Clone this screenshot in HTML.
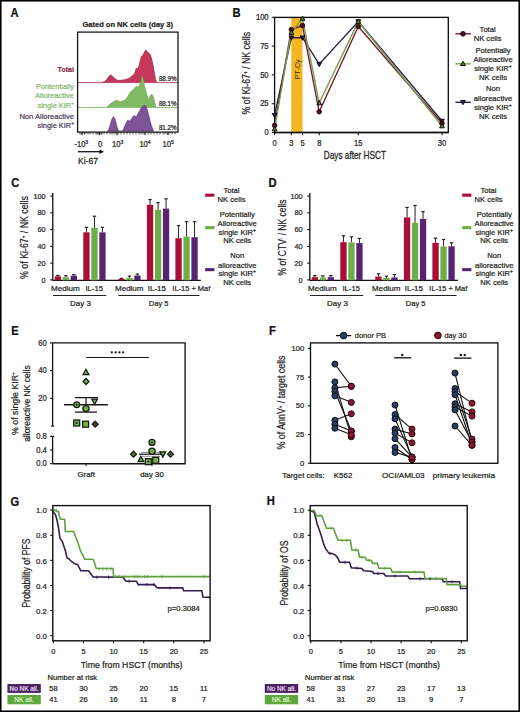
<!DOCTYPE html><html><head><meta charset="utf-8"><style>html,body{margin:0;padding:0;background:#fff;}svg{display:block;}text{font-family:"Liberation Sans", sans-serif;}</style></head><body>
<svg width="520" height="712" viewBox="0 0 520 712">
<rect x="0" y="0" width="520" height="712" fill="#fff"/>
<text transform="translate(10.6,16.9) scale(1,1.11)" font-size="11.2" text-anchor="start" fill="#111" stroke="#111" stroke-width="0.22" font-weight="bold">A</text>
<text transform="translate(232.6,16.7) scale(1,1.11)" font-size="11.2" text-anchor="start" fill="#111" stroke="#111" stroke-width="0.22" font-weight="bold">B</text>
<text transform="translate(11.2,187.1) scale(1,1.11)" font-size="11.2" text-anchor="start" fill="#111" stroke="#111" stroke-width="0.22" font-weight="bold">C</text>
<text transform="translate(268.4,186.8) scale(1,1.11)" font-size="11.2" text-anchor="start" fill="#111" stroke="#111" stroke-width="0.22" font-weight="bold">D</text>
<text transform="translate(11.2,335) scale(1,1.11)" font-size="11.2" text-anchor="start" fill="#111" stroke="#111" stroke-width="0.22" font-weight="bold">E</text>
<text transform="translate(268.9,335.1) scale(1,1.11)" font-size="11.2" text-anchor="start" fill="#111" stroke="#111" stroke-width="0.22" font-weight="bold">F</text>
<text transform="translate(10.6,506) scale(1,1.11)" font-size="11.2" text-anchor="start" fill="#111" stroke="#111" stroke-width="0.22" font-weight="bold">G</text>
<text transform="translate(266.8,505.4) scale(1,1.11)" font-size="11.2" text-anchor="start" fill="#111" stroke="#111" stroke-width="0.22" font-weight="bold">H</text>
<text transform="translate(82.5,27.3) scale(1,1)" font-size="7.0" text-anchor="start" fill="#231f20" stroke="#231f20" stroke-width="0.22" font-weight="bold" textLength="90.5" lengthAdjust="spacingAndGlyphs">Gated on NK cells (day 3)</text>
<polygon points="102.0,82.4 104.6,81.5 106.9,79.2 108.8,76.5 110.4,74.9 111.8,75.4 113.3,76.9 115.3,78.8 117.3,80.3 120.8,80.3 123.5,79.9 126.5,79.2 129.0,78.2 131.1,76.9 133.0,75.3 134.6,73.4 135.5,70.5 136.3,68.2 137.2,68.3 138.1,68.8 139.0,65.5 139.8,62.5 140.7,59.0 141.5,56.1 142.9,55.5 143.6,53.6 144.4,52.1 145.9,49.8 147.3,52.1 149.0,53.2 150.0,54.5 150.8,56.1 151.7,59.0 152.5,62.5 153.4,67.0 154.2,71.7 154.8,75.5 155.4,78.6 156.5,82.4" fill="#c9365c" stroke="#8a1f3a" stroke-width="0.6"/>
<line x1="77.5" y1="82.6" x2="178" y2="82.6" stroke="#c0506b" stroke-width="1.0"/>
<polygon points="106.5,107.5 108.0,106.0 110.4,103.8 113.0,102.0 116.1,100.0 118.0,100.8 120.2,101.7 122.5,101.0 124.8,100.5 126.3,98.5 127.7,96.5 130.0,92.5 131.8,90.8 133.4,89.6 135.0,87.8 136.3,86.1 137.2,87.0 138.1,87.8 139.3,85.5 140.4,82.7 141.3,79.0 142.1,76.3 143.3,77.5 144.4,85.5 146.1,91.9 147.3,96.0 148.4,100.0 149.8,97.0 150.8,95.0 151.9,94.2 152.8,95.5 153.6,97.6 154.8,102.5 155.9,107.5" fill="#80bb63" stroke="#5f8f48" stroke-width="0.5"/>
<line x1="77.5" y1="107.5" x2="178" y2="107.5" stroke="#8fbf78" stroke-width="1.0"/>
<polygon points="107.5,131.2 109.0,128.5 110.5,124.0 111.7,119.5 113.3,116.6 114.8,118.5 116.0,122.5 117.2,127.5 118.6,131.2 122.5,131.2 124.0,127.5 126.0,123.0 127.7,120.2 129.0,120.6 130.0,121.3 132.0,118.0 134.0,115.6 135.2,116.0 136.3,116.7 138.0,113.5 140.0,110.0 141.5,107.3 143.8,105.2 145.5,105.8 146.6,107.5 148.4,113.8 149.6,118.5 150.7,123.0 152.2,127.5 153.6,131.2" fill="#7e5498" stroke="#4a2c62" stroke-width="0.5"/>
<rect x="77.6" y="32.1" width="100.4" height="100.0" fill="none" stroke="#111" stroke-width="1.25"/>
<text transform="translate(176.5,81.2) scale(1,1.07)" font-size="6.0" text-anchor="end" fill="#231f20" stroke="#231f20" stroke-width="0.22" textLength="17.6" lengthAdjust="spacingAndGlyphs">88.9%</text>
<text transform="translate(176.5,105.6) scale(1,1.07)" font-size="6.0" text-anchor="end" fill="#231f20" stroke="#231f20" stroke-width="0.22" textLength="17.6" lengthAdjust="spacingAndGlyphs">88.1%</text>
<text transform="translate(176.5,129.8) scale(1,1.07)" font-size="6.0" text-anchor="end" fill="#231f20" stroke="#231f20" stroke-width="0.22" textLength="17.6" lengthAdjust="spacingAndGlyphs">81.2%</text>
<text transform="translate(74,72.0) scale(1,1)" font-size="7.8" text-anchor="end" fill="#8e2c48" stroke="#8e2c48" stroke-width="0.22" font-weight="bold" textLength="16.4" lengthAdjust="spacingAndGlyphs">Total</text>
<text transform="translate(74,88.9) scale(1,1)" font-size="7.6" text-anchor="end" fill="#86b66c" stroke="#86b66c" stroke-width="0.22" textLength="38" lengthAdjust="spacingAndGlyphs">Pontentially</text>
<text transform="translate(74,98.3) scale(1,1)" font-size="7.6" text-anchor="end" fill="#86b66c" stroke="#86b66c" stroke-width="0.22" textLength="39" lengthAdjust="spacingAndGlyphs">Alloreactive</text>
<text transform="translate(74,107.5) scale(1,1)" font-size="7.6" text-anchor="end" fill="#86b66c" stroke="#86b66c" stroke-width="0.22" textLength="36.5" lengthAdjust="spacingAndGlyphs">single KIR<tspan font-size="5" baseline-shift="3">+</tspan></text>
<text transform="translate(74,119.1) scale(1,1)" font-size="7.6" text-anchor="end" fill="#4a3c58" stroke="#4a3c58" stroke-width="0.22" textLength="54.6" lengthAdjust="spacingAndGlyphs">Non Alloreactive</text>
<text transform="translate(74,128.3) scale(1,1)" font-size="7.6" text-anchor="end" fill="#4a3c58" stroke="#4a3c58" stroke-width="0.22" textLength="36.5" lengthAdjust="spacingAndGlyphs">single KIR<tspan font-size="5" baseline-shift="3">+</tspan></text>
<line x1="80" y1="132.2" x2="80" y2="134.4" stroke="#222" stroke-width="0.8"/>
<line x1="81.5" y1="132.2" x2="81.5" y2="134.4" stroke="#222" stroke-width="0.8"/>
<line x1="83" y1="132.2" x2="83" y2="134.4" stroke="#222" stroke-width="0.8"/>
<line x1="84.5" y1="132.2" x2="84.5" y2="134.4" stroke="#222" stroke-width="0.8"/>
<line x1="86" y1="132.2" x2="86" y2="134.4" stroke="#222" stroke-width="0.8"/>
<line x1="88" y1="132.2" x2="88" y2="134.4" stroke="#222" stroke-width="0.8"/>
<line x1="90" y1="132.2" x2="90" y2="134.4" stroke="#222" stroke-width="0.8"/>
<line x1="93" y1="132.2" x2="93" y2="134.4" stroke="#222" stroke-width="0.8"/>
<line x1="96" y1="132.2" x2="96" y2="134.4" stroke="#222" stroke-width="0.8"/>
<line x1="97" y1="132.2" x2="97" y2="134.4" stroke="#222" stroke-width="0.8"/>
<line x1="98" y1="132.2" x2="98" y2="134.4" stroke="#222" stroke-width="0.8"/>
<line x1="99" y1="132.2" x2="99" y2="134.4" stroke="#222" stroke-width="0.8"/>
<line x1="100" y1="132.2" x2="100" y2="134.4" stroke="#222" stroke-width="0.8"/>
<line x1="101" y1="132.2" x2="101" y2="134.4" stroke="#222" stroke-width="0.8"/>
<line x1="102" y1="132.2" x2="102" y2="134.4" stroke="#222" stroke-width="0.8"/>
<line x1="104" y1="132.2" x2="104" y2="134.4" stroke="#222" stroke-width="0.8"/>
<line x1="107" y1="132.2" x2="107" y2="134.4" stroke="#222" stroke-width="0.8"/>
<line x1="110" y1="132.2" x2="110" y2="134.4" stroke="#222" stroke-width="0.8"/>
<line x1="112" y1="132.2" x2="112" y2="134.4" stroke="#222" stroke-width="0.8"/>
<line x1="114" y1="132.2" x2="114" y2="134.4" stroke="#222" stroke-width="0.8"/>
<line x1="116" y1="132.2" x2="116" y2="134.4" stroke="#222" stroke-width="0.8"/>
<line x1="118" y1="132.2" x2="118" y2="134.4" stroke="#222" stroke-width="0.8"/>
<line x1="121" y1="132.2" x2="121" y2="134.4" stroke="#222" stroke-width="0.8"/>
<line x1="124" y1="132.2" x2="124" y2="134.4" stroke="#222" stroke-width="0.8"/>
<line x1="127" y1="132.2" x2="127" y2="134.4" stroke="#222" stroke-width="0.8"/>
<line x1="130" y1="132.2" x2="130" y2="134.4" stroke="#222" stroke-width="0.8"/>
<line x1="133" y1="132.2" x2="133" y2="134.4" stroke="#222" stroke-width="0.8"/>
<line x1="136" y1="132.2" x2="136" y2="134.4" stroke="#222" stroke-width="0.8"/>
<line x1="139" y1="132.2" x2="139" y2="134.4" stroke="#222" stroke-width="0.8"/>
<line x1="141" y1="132.2" x2="141" y2="134.4" stroke="#222" stroke-width="0.8"/>
<line x1="143" y1="132.2" x2="143" y2="134.4" stroke="#222" stroke-width="0.8"/>
<line x1="145" y1="132.2" x2="145" y2="134.4" stroke="#222" stroke-width="0.8"/>
<line x1="148" y1="132.2" x2="148" y2="134.4" stroke="#222" stroke-width="0.8"/>
<line x1="151" y1="132.2" x2="151" y2="134.4" stroke="#222" stroke-width="0.8"/>
<line x1="154" y1="132.2" x2="154" y2="134.4" stroke="#222" stroke-width="0.8"/>
<line x1="157" y1="132.2" x2="157" y2="134.4" stroke="#222" stroke-width="0.8"/>
<line x1="160" y1="132.2" x2="160" y2="134.4" stroke="#222" stroke-width="0.8"/>
<line x1="163" y1="132.2" x2="163" y2="134.4" stroke="#222" stroke-width="0.8"/>
<line x1="165" y1="132.2" x2="165" y2="134.4" stroke="#222" stroke-width="0.8"/>
<line x1="167" y1="132.2" x2="167" y2="134.4" stroke="#222" stroke-width="0.8"/>
<line x1="169" y1="132.2" x2="169" y2="134.4" stroke="#222" stroke-width="0.8"/>
<line x1="172" y1="132.2" x2="172" y2="134.4" stroke="#222" stroke-width="0.8"/>
<line x1="175" y1="132.2" x2="175" y2="134.4" stroke="#222" stroke-width="0.8"/>
<line x1="82" y1="132.2" x2="82" y2="135.2" stroke="#222" stroke-width="1.0"/>
<line x1="99.5" y1="132.2" x2="99.5" y2="135.2" stroke="#222" stroke-width="1.0"/>
<line x1="117" y1="132.2" x2="117" y2="135.2" stroke="#222" stroke-width="1.0"/>
<line x1="145" y1="132.2" x2="145" y2="135.2" stroke="#222" stroke-width="1.0"/>
<line x1="168" y1="132.2" x2="168" y2="135.2" stroke="#222" stroke-width="1.0"/>
<text transform="translate(74.4,147) scale(1,1.07)" font-size="7.6" text-anchor="start" fill="#231f20" stroke="#231f20" stroke-width="0.22">-10<tspan font-size="5" baseline-shift="3">3</tspan></text>
<text transform="translate(98,147) scale(1,1.07)" font-size="7.6" text-anchor="start" fill="#231f20" stroke="#231f20" stroke-width="0.22">0</text>
<text transform="translate(112,147) scale(1,1.07)" font-size="7.6" text-anchor="start" fill="#231f20" stroke="#231f20" stroke-width="0.22">10<tspan font-size="5" baseline-shift="3">3</tspan></text>
<text transform="translate(139.4,147) scale(1,1.07)" font-size="7.6" text-anchor="start" fill="#231f20" stroke="#231f20" stroke-width="0.22">10<tspan font-size="5" baseline-shift="3">4</tspan></text>
<text transform="translate(162.5,147) scale(1,1.07)" font-size="7.6" text-anchor="start" fill="#231f20" stroke="#231f20" stroke-width="0.22">10<tspan font-size="5" baseline-shift="3">5</tspan></text>
<line x1="78" y1="151.7" x2="100.5" y2="151.7" stroke="#111" stroke-width="1.3"/>
<polygon points="104.0,151.7 99.5,149.4 99.5,154.0" fill="#111" stroke="none" stroke-width="0.8"/>
<text transform="translate(78,163.7) scale(1,1.15)" font-size="8.6" text-anchor="start" fill="#231f20" stroke="#231f20" stroke-width="0.22" textLength="20" lengthAdjust="spacingAndGlyphs">Ki-67</text>
<rect x="291.3" y="17.4" width="11.2" height="115.1" fill="#f1b620"/>
<text transform="translate(300.2,69.3) rotate(-90)" font-size="7.2" text-anchor="middle" fill="#3b2a05">PT-Cy</text>
<rect x="274.6" y="17.4" width="173.70" height="115.10" fill="none" stroke="#111" stroke-width="1.35"/>
<line x1="274.6" y1="132.5" x2="448.5" y2="132.5" stroke="#111" stroke-width="1.4"/>
<line x1="271.8" y1="132.5" x2="274.6" y2="132.5" stroke="#111" stroke-width="1.1"/>
<text transform="translate(268.6,135.2) scale(1,1.07)" font-size="7.6" text-anchor="end" fill="#231f20" stroke="#231f20" stroke-width="0.22">0</text>
<line x1="271.8" y1="103.7" x2="274.6" y2="103.7" stroke="#111" stroke-width="1.1"/>
<text transform="translate(268.6,106.4) scale(1,1.07)" font-size="7.6" text-anchor="end" fill="#231f20" stroke="#231f20" stroke-width="0.22">25</text>
<line x1="271.8" y1="74.9" x2="274.6" y2="74.9" stroke="#111" stroke-width="1.1"/>
<text transform="translate(268.6,77.60000000000001) scale(1,1.07)" font-size="7.6" text-anchor="end" fill="#231f20" stroke="#231f20" stroke-width="0.22">50</text>
<line x1="271.8" y1="46.10000000000001" x2="274.6" y2="46.10000000000001" stroke="#111" stroke-width="1.1"/>
<text transform="translate(268.6,48.80000000000001) scale(1,1.07)" font-size="7.6" text-anchor="end" fill="#231f20" stroke="#231f20" stroke-width="0.22">75</text>
<line x1="271.8" y1="17.30000000000001" x2="274.6" y2="17.30000000000001" stroke="#111" stroke-width="1.1"/>
<text transform="translate(268.6,20.00000000000001) scale(1,1.07)" font-size="7.6" text-anchor="end" fill="#231f20" stroke="#231f20" stroke-width="0.22">100</text>
<line x1="274.6" y1="132.5" x2="274.6" y2="135.2" stroke="#111" stroke-width="1.1"/>
<text transform="translate(274.6,145.6) scale(1,1.08)" font-size="7.6" text-anchor="middle" fill="#231f20" stroke="#231f20" stroke-width="0.22">0</text>
<line x1="291.34000000000003" y1="132.5" x2="291.34000000000003" y2="135.2" stroke="#111" stroke-width="1.1"/>
<text transform="translate(291.34000000000003,145.6) scale(1,1.08)" font-size="7.6" text-anchor="middle" fill="#231f20" stroke="#231f20" stroke-width="0.22">3</text>
<line x1="302.5" y1="132.5" x2="302.5" y2="135.2" stroke="#111" stroke-width="1.1"/>
<text transform="translate(302.5,145.6) scale(1,1.08)" font-size="7.6" text-anchor="middle" fill="#231f20" stroke="#231f20" stroke-width="0.22">5</text>
<line x1="319.24" y1="132.5" x2="319.24" y2="135.2" stroke="#111" stroke-width="1.1"/>
<text transform="translate(319.24,145.6) scale(1,1.08)" font-size="7.6" text-anchor="middle" fill="#231f20" stroke="#231f20" stroke-width="0.22">8</text>
<line x1="358.3" y1="132.5" x2="358.3" y2="135.2" stroke="#111" stroke-width="1.1"/>
<text transform="translate(358.3,145.6) scale(1,1.08)" font-size="7.6" text-anchor="middle" fill="#231f20" stroke="#231f20" stroke-width="0.22">15</text>
<line x1="442.0" y1="132.5" x2="442.0" y2="135.2" stroke="#111" stroke-width="1.1"/>
<text transform="translate(442.0,145.6) scale(1,1.08)" font-size="7.6" text-anchor="middle" fill="#231f20" stroke="#231f20" stroke-width="0.22">30</text>
<text transform="translate(323.8,159.0) scale(1,1.2)" font-size="8.4" text-anchor="start" fill="#231f20" stroke="#231f20" stroke-width="0.22" textLength="62.2" lengthAdjust="spacingAndGlyphs">Days after HSCT</text>
<text transform="translate(249.9,73.2) rotate(-90)" x="0" y="0" font-size="10" text-anchor="middle" fill="#231f20" stroke="#231f20" stroke-width="0.22" textLength="82.6" lengthAdjust="spacingAndGlyphs">% of Ki-67<tspan font-size="5" baseline-shift="3">+</tspan> / NK cells</text>
<polyline points="274.6,115.2 291.3,37.7 302.5,37.7 319.2,64.2 358.3,21.6 442.0,121.0" fill="none" stroke="#2b2350" stroke-width="1.4" stroke-linejoin="miter"/>
<polyline points="274.6,125.4 291.3,29.6 302.5,25.6 319.2,111.8 358.3,26.5 442.0,123.3" fill="none" stroke="#7a1a2c" stroke-width="1.4" stroke-linejoin="miter"/>
<polyline points="274.6,129.0 291.3,32.5 302.5,18.6 319.2,103.0 358.3,21.6 442.0,126.0" fill="none" stroke="#74a352" stroke-width="1.4" stroke-linejoin="miter"/>
<polygon points="274.6,117.7 272.2,113.5 277.0,113.5" fill="#2a2144" stroke="#0d0a18" stroke-width="0.9"/>
<polygon points="291.3,40.2 289.0,35.9 293.7,35.9" fill="#2a2144" stroke="#0d0a18" stroke-width="0.9"/>
<polygon points="302.5,40.2 300.1,35.9 304.9,35.9" fill="#2a2144" stroke="#0d0a18" stroke-width="0.9"/>
<polygon points="319.2,66.7 316.9,62.4 321.6,62.4" fill="#2a2144" stroke="#0d0a18" stroke-width="0.9"/>
<polygon points="358.3,24.1 355.9,19.8 360.7,19.8" fill="#2a2144" stroke="#0d0a18" stroke-width="0.9"/>
<polygon points="442.0,123.5 439.6,119.2 444.4,119.2" fill="#2a2144" stroke="#0d0a18" stroke-width="0.9"/>
<circle cx="274.6" cy="125.4" r="2.3" fill="#4a0c18" stroke="#1a0508" stroke-width="0.8"/>
<circle cx="291.3" cy="29.6" r="2.3" fill="#4a0c18" stroke="#1a0508" stroke-width="0.8"/>
<circle cx="302.5" cy="25.6" r="2.3" fill="#4a0c18" stroke="#1a0508" stroke-width="0.8"/>
<circle cx="319.2" cy="111.8" r="2.3" fill="#4a0c18" stroke="#1a0508" stroke-width="0.8"/>
<circle cx="358.3" cy="26.5" r="2.3" fill="#4a0c18" stroke="#1a0508" stroke-width="0.8"/>
<circle cx="442.0" cy="123.3" r="2.3" fill="#4a0c18" stroke="#1a0508" stroke-width="0.8"/>
<polygon points="274.6,126.5 272.2,130.8 277.0,130.8" fill="#5d8a40" stroke="#0a0a0a" stroke-width="1.0"/>
<polygon points="291.3,30.0 289.0,34.3 293.7,34.3" fill="#5d8a40" stroke="#0a0a0a" stroke-width="1.0"/>
<polygon points="302.5,16.1 300.1,20.3 304.9,20.3" fill="#5d8a40" stroke="#0a0a0a" stroke-width="1.0"/>
<polygon points="319.2,100.5 316.9,104.8 321.6,104.8" fill="#5d8a40" stroke="#0a0a0a" stroke-width="1.0"/>
<polygon points="358.3,19.1 355.9,23.3 360.7,23.3" fill="#5d8a40" stroke="#0a0a0a" stroke-width="1.0"/>
<polygon points="442.0,123.5 439.6,127.8 444.4,127.8" fill="#5d8a40" stroke="#0a0a0a" stroke-width="1.0"/>
<line x1="455.4" y1="33.8" x2="470.8" y2="33.8" stroke="#7a1a2c" stroke-width="1.4"/>
<circle cx="463.0" cy="33.8" r="2.4" fill="#4a0c18" stroke="#1a0508" stroke-width="0.8"/>
<line x1="455.4" y1="63.8" x2="470.8" y2="63.8" stroke="#74a352" stroke-width="1.4"/>
<polygon points="463.0,61.3 460.6,65.5 465.4,65.5" fill="#5d8a40" stroke="#0a0a0a" stroke-width="1.0"/>
<line x1="455.4" y1="102.3" x2="470.8" y2="102.3" stroke="#2b2350" stroke-width="1.4"/>
<polygon points="463.0,104.8 460.6,100.5 465.4,100.5" fill="#2a2144" stroke="#0d0a18" stroke-width="0.9"/>
<text transform="translate(487.6,32.2) scale(1,1)" font-size="7.6" text-anchor="middle" fill="#231f20" stroke="#231f20" stroke-width="0.22">Total</text>
<text transform="translate(487.6,41.2) scale(1,1)" font-size="7.6" text-anchor="middle" fill="#231f20" stroke="#231f20" stroke-width="0.22">NK cells</text>
<text transform="translate(493,52.8) scale(1,1)" font-size="7.6" text-anchor="middle" fill="#231f20" stroke="#231f20" stroke-width="0.22">Potentially</text>
<text transform="translate(493,62) scale(1,1)" font-size="7.6" text-anchor="middle" fill="#231f20" stroke="#231f20" stroke-width="0.22">Alloreactive</text>
<text transform="translate(493,71.2) scale(1,1)" font-size="7.6" text-anchor="middle" fill="#231f20" stroke="#231f20" stroke-width="0.22">single KIR<tspan font-size="5" baseline-shift="3">+</tspan></text>
<text transform="translate(493,80.4) scale(1,1)" font-size="7.6" text-anchor="middle" fill="#231f20" stroke="#231f20" stroke-width="0.22">NK cells</text>
<text transform="translate(493,91.4) scale(1,1)" font-size="7.6" text-anchor="middle" fill="#231f20" stroke="#231f20" stroke-width="0.22">Non</text>
<text transform="translate(493,100.6) scale(1,1)" font-size="7.6" text-anchor="middle" fill="#231f20" stroke="#231f20" stroke-width="0.22">alloreactive</text>
<text transform="translate(493,109.8) scale(1,1)" font-size="7.6" text-anchor="middle" fill="#231f20" stroke="#231f20" stroke-width="0.22">single KIR<tspan font-size="5" baseline-shift="3">+</tspan></text>
<text transform="translate(493,119) scale(1,1)" font-size="7.6" text-anchor="middle" fill="#231f20" stroke="#231f20" stroke-width="0.22">NK cells</text>
<line x1="52.8" y1="193.0" x2="52.8" y2="280.4" stroke="#111" stroke-width="1.3"/>
<line x1="52.8" y1="280.3" x2="200.8" y2="280.3" stroke="#111" stroke-width="1.3"/>
<line x1="50.199999999999996" y1="279.9" x2="52.8" y2="279.9" stroke="#111" stroke-width="1.1"/>
<text transform="translate(45.599999999999994,282.5) scale(1,1)" font-size="7.3" text-anchor="end" fill="#231f20" stroke="#231f20" stroke-width="0.22">0</text>
<line x1="50.199999999999996" y1="263.14" x2="52.8" y2="263.14" stroke="#111" stroke-width="1.1"/>
<text transform="translate(45.599999999999994,265.74) scale(1,1)" font-size="7.3" text-anchor="end" fill="#231f20" stroke="#231f20" stroke-width="0.22">20</text>
<line x1="50.199999999999996" y1="246.38" x2="52.8" y2="246.38" stroke="#111" stroke-width="1.1"/>
<text transform="translate(45.599999999999994,248.98) scale(1,1)" font-size="7.3" text-anchor="end" fill="#231f20" stroke="#231f20" stroke-width="0.22">40</text>
<line x1="50.199999999999996" y1="229.61999999999998" x2="52.8" y2="229.61999999999998" stroke="#111" stroke-width="1.1"/>
<text transform="translate(45.599999999999994,232.21999999999997) scale(1,1)" font-size="7.3" text-anchor="end" fill="#231f20" stroke="#231f20" stroke-width="0.22">60</text>
<line x1="50.199999999999996" y1="212.85999999999999" x2="52.8" y2="212.85999999999999" stroke="#111" stroke-width="1.1"/>
<text transform="translate(45.599999999999994,215.45999999999998) scale(1,1)" font-size="7.3" text-anchor="end" fill="#231f20" stroke="#231f20" stroke-width="0.22">80</text>
<line x1="50.199999999999996" y1="196.09999999999997" x2="52.8" y2="196.09999999999997" stroke="#111" stroke-width="1.1"/>
<text transform="translate(45.599999999999994,198.69999999999996) scale(1,1)" font-size="7.3" text-anchor="end" fill="#231f20" stroke="#231f20" stroke-width="0.22">100</text>
<line x1="57.849999999999994" y1="275.4586" x2="57.849999999999994" y2="276.38039999999995" stroke="#222" stroke-width="1.0"/>
<line x1="56.14999999999999" y1="275.4586" x2="59.55" y2="275.4586" stroke="#222" stroke-width="1.2"/>
<rect x="54.7" y="276.4" width="6.3" height="3.9" fill="#aa0d38"/>
<line x1="65.85" y1="275.71" x2="65.85" y2="277.2184" stroke="#222" stroke-width="1.0"/>
<line x1="64.14999999999999" y1="275.71" x2="67.55" y2="275.71" stroke="#222" stroke-width="1.2"/>
<rect x="62.7" y="277.2" width="6.3" height="3.1" fill="#6cae48"/>
<line x1="73.85" y1="274.62059999999997" x2="73.85" y2="275.71" stroke="#222" stroke-width="1.0"/>
<line x1="72.14999999999999" y1="274.62059999999997" x2="75.55" y2="274.62059999999997" stroke="#222" stroke-width="1.2"/>
<rect x="70.7" y="275.7" width="6.3" height="4.6" fill="#57246f"/>
<line x1="86.45" y1="227.35739999999998" x2="86.45" y2="232.30159999999998" stroke="#222" stroke-width="1.0"/>
<line x1="84.75" y1="227.35739999999998" x2="88.15" y2="227.35739999999998" stroke="#222" stroke-width="1.2"/>
<rect x="83.3" y="232.3" width="6.3" height="48.0" fill="#aa0d38"/>
<line x1="94.45" y1="216.212" x2="94.45" y2="227.77639999999997" stroke="#222" stroke-width="1.0"/>
<line x1="92.75" y1="216.212" x2="96.15" y2="216.212" stroke="#222" stroke-width="1.2"/>
<rect x="91.3" y="227.8" width="6.3" height="52.5" fill="#6cae48"/>
<line x1="102.45" y1="227.35739999999998" x2="102.45" y2="232.38539999999998" stroke="#222" stroke-width="1.0"/>
<line x1="100.75" y1="227.35739999999998" x2="104.15" y2="227.35739999999998" stroke="#222" stroke-width="1.2"/>
<rect x="99.3" y="232.4" width="6.3" height="47.9" fill="#57246f"/>
<line x1="121.45" y1="278.3916" x2="121.45" y2="278.89439999999996" stroke="#222" stroke-width="1.0"/>
<line x1="119.75" y1="278.3916" x2="123.15" y2="278.3916" stroke="#222" stroke-width="1.2"/>
<rect x="118.3" y="278.9" width="6.3" height="1.4" fill="#aa0d38"/>
<line x1="129.45" y1="276.12899999999996" x2="129.45" y2="277.8888" stroke="#222" stroke-width="1.0"/>
<line x1="127.74999999999999" y1="276.12899999999996" x2="131.14999999999998" y2="276.12899999999996" stroke="#222" stroke-width="1.2"/>
<rect x="126.3" y="277.9" width="6.3" height="2.4" fill="#6cae48"/>
<line x1="137.45000000000002" y1="274.034" x2="137.45000000000002" y2="275.4586" stroke="#222" stroke-width="1.0"/>
<line x1="135.75000000000003" y1="274.034" x2="139.15" y2="274.034" stroke="#222" stroke-width="1.2"/>
<rect x="134.3" y="275.5" width="6.3" height="4.8" fill="#57246f"/>
<line x1="150.04999999999998" y1="199.5358" x2="150.04999999999998" y2="204.8152" stroke="#222" stroke-width="1.0"/>
<line x1="148.35" y1="199.5358" x2="151.74999999999997" y2="199.5358" stroke="#222" stroke-width="1.2"/>
<rect x="146.9" y="204.8" width="6.3" height="75.5" fill="#aa0d38"/>
<line x1="158.04999999999998" y1="202.63639999999998" x2="158.04999999999998" y2="209.84319999999997" stroke="#222" stroke-width="1.0"/>
<line x1="156.35" y1="202.63639999999998" x2="159.74999999999997" y2="202.63639999999998" stroke="#222" stroke-width="1.2"/>
<rect x="154.9" y="209.8" width="6.3" height="70.5" fill="#6cae48"/>
<line x1="166.04999999999998" y1="198.86539999999997" x2="166.04999999999998" y2="208.5862" stroke="#222" stroke-width="1.0"/>
<line x1="164.35" y1="198.86539999999997" x2="167.74999999999997" y2="198.86539999999997" stroke="#222" stroke-width="1.2"/>
<rect x="162.9" y="208.6" width="6.3" height="71.7" fill="#57246f"/>
<line x1="178.54999999999998" y1="225.68139999999997" x2="178.54999999999998" y2="238.1676" stroke="#222" stroke-width="1.0"/>
<line x1="176.85" y1="225.68139999999997" x2="180.24999999999997" y2="225.68139999999997" stroke="#222" stroke-width="1.2"/>
<rect x="175.4" y="238.2" width="6.3" height="42.1" fill="#aa0d38"/>
<line x1="186.54999999999998" y1="221.659" x2="186.54999999999998" y2="236.57539999999997" stroke="#222" stroke-width="1.0"/>
<line x1="184.85" y1="221.659" x2="188.24999999999997" y2="221.659" stroke="#222" stroke-width="1.2"/>
<rect x="183.4" y="236.6" width="6.3" height="43.7" fill="#6cae48"/>
<line x1="194.54999999999998" y1="221.659" x2="194.54999999999998" y2="237.16199999999998" stroke="#222" stroke-width="1.0"/>
<line x1="192.85" y1="221.659" x2="196.24999999999997" y2="221.659" stroke="#222" stroke-width="1.2"/>
<rect x="191.4" y="237.2" width="6.3" height="43.1" fill="#57246f"/>
<text transform="translate(51.0,290.9) scale(1,1)" font-size="7.8" text-anchor="start" fill="#231f20" stroke="#231f20" stroke-width="0.22" textLength="28.7" lengthAdjust="spacingAndGlyphs">Medium</text>
<text transform="translate(85.4,290.9) scale(1,1)" font-size="7.8" text-anchor="start" fill="#231f20" stroke="#231f20" stroke-width="0.22" textLength="17.6" lengthAdjust="spacingAndGlyphs">IL-15</text>
<text transform="translate(115.0,290.9) scale(1,1)" font-size="7.8" text-anchor="start" fill="#231f20" stroke="#231f20" stroke-width="0.22" textLength="28.5" lengthAdjust="spacingAndGlyphs">Medium</text>
<text transform="translate(147.7,290.9) scale(1,1)" font-size="7.8" text-anchor="start" fill="#231f20" stroke="#231f20" stroke-width="0.22" textLength="18.3" lengthAdjust="spacingAndGlyphs">IL-15</text>
<text transform="translate(172.3,290.9) scale(1,1)" font-size="7.8" text-anchor="start" fill="#231f20" stroke="#231f20" stroke-width="0.22" textLength="38" lengthAdjust="spacingAndGlyphs">IL-15 + Maf</text>
<line x1="53.0" y1="295.5" x2="106.19999999999999" y2="295.5" stroke="#222" stroke-width="1.1"/>
<line x1="118.39999999999999" y1="295.5" x2="199.39999999999998" y2="295.5" stroke="#222" stroke-width="1.1"/>
<text transform="translate(80.4,305.8) scale(1,1.03)" font-size="7.8" text-anchor="middle" fill="#231f20" stroke="#231f20" stroke-width="0.22" textLength="20.8" lengthAdjust="spacingAndGlyphs">Day 3</text>
<text transform="translate(158.6,305.8) scale(1,1.03)" font-size="7.8" text-anchor="middle" fill="#231f20" stroke="#231f20" stroke-width="0.22" textLength="19.8" lengthAdjust="spacingAndGlyphs">Day 5</text>
<text transform="translate(27.8,237.5) rotate(-90)" x="0" y="0" font-size="10" text-anchor="middle" fill="#231f20" stroke="#231f20" stroke-width="0.22" textLength="82.9" lengthAdjust="spacingAndGlyphs">% of Ki-67<tspan font-size="5" baseline-shift="3">+</tspan> / NK cells</text>
<rect x="205.2" y="193.6" width="9.2" height="3.1" fill="#aa0d38"/>
<rect x="205.2" y="226.1" width="9.2" height="3.1" fill="#6cae48"/>
<rect x="205.2" y="268.1" width="9.2" height="3.1" fill="#57246f"/>
<text transform="translate(231.5,192.8) scale(1,1)" font-size="7.6" text-anchor="middle" fill="#231f20" stroke="#231f20" stroke-width="0.22">Total</text>
<text transform="translate(231.5,202) scale(1,1)" font-size="7.6" text-anchor="middle" fill="#231f20" stroke="#231f20" stroke-width="0.22">NK cells</text>
<text transform="translate(237.2,217) scale(1,1)" font-size="7.6" text-anchor="middle" fill="#231f20" stroke="#231f20" stroke-width="0.22">Potentially</text>
<text transform="translate(237.2,225.9) scale(1,1)" font-size="7.6" text-anchor="middle" fill="#231f20" stroke="#231f20" stroke-width="0.22">Alloreactive</text>
<text transform="translate(237.2,234.6) scale(1,1)" font-size="7.6" text-anchor="middle" fill="#231f20" stroke="#231f20" stroke-width="0.22">single KIR<tspan font-size="5" baseline-shift="3">+</tspan></text>
<text transform="translate(237.2,243.3) scale(1,1)" font-size="7.6" text-anchor="middle" fill="#231f20" stroke="#231f20" stroke-width="0.22">NK cells</text>
<text transform="translate(237.2,258.2) scale(1,1)" font-size="7.6" text-anchor="middle" fill="#231f20" stroke="#231f20" stroke-width="0.22">Non</text>
<text transform="translate(237.2,267.6) scale(1,1)" font-size="7.6" text-anchor="middle" fill="#231f20" stroke="#231f20" stroke-width="0.22">alloreactive</text>
<text transform="translate(237.2,276.4) scale(1,1)" font-size="7.6" text-anchor="middle" fill="#231f20" stroke="#231f20" stroke-width="0.22">single KIR<tspan font-size="5" baseline-shift="3">+</tspan></text>
<text transform="translate(237.2,285.4) scale(1,1)" font-size="7.6" text-anchor="middle" fill="#231f20" stroke="#231f20" stroke-width="0.22">NK cells</text>
<line x1="309.8" y1="193.0" x2="309.8" y2="280.4" stroke="#111" stroke-width="1.3"/>
<line x1="309.8" y1="280.3" x2="457.8" y2="280.3" stroke="#111" stroke-width="1.3"/>
<line x1="307.2" y1="279.9" x2="309.8" y2="279.9" stroke="#111" stroke-width="1.1"/>
<text transform="translate(302.6,282.5) scale(1,1)" font-size="7.3" text-anchor="end" fill="#231f20" stroke="#231f20" stroke-width="0.22">0</text>
<line x1="307.2" y1="263.14" x2="309.8" y2="263.14" stroke="#111" stroke-width="1.1"/>
<text transform="translate(302.6,265.74) scale(1,1)" font-size="7.3" text-anchor="end" fill="#231f20" stroke="#231f20" stroke-width="0.22">20</text>
<line x1="307.2" y1="246.38" x2="309.8" y2="246.38" stroke="#111" stroke-width="1.1"/>
<text transform="translate(302.6,248.98) scale(1,1)" font-size="7.3" text-anchor="end" fill="#231f20" stroke="#231f20" stroke-width="0.22">40</text>
<line x1="307.2" y1="229.61999999999998" x2="309.8" y2="229.61999999999998" stroke="#111" stroke-width="1.1"/>
<text transform="translate(302.6,232.21999999999997) scale(1,1)" font-size="7.3" text-anchor="end" fill="#231f20" stroke="#231f20" stroke-width="0.22">60</text>
<line x1="307.2" y1="212.85999999999999" x2="309.8" y2="212.85999999999999" stroke="#111" stroke-width="1.1"/>
<text transform="translate(302.6,215.45999999999998) scale(1,1)" font-size="7.3" text-anchor="end" fill="#231f20" stroke="#231f20" stroke-width="0.22">80</text>
<line x1="307.2" y1="196.09999999999997" x2="309.8" y2="196.09999999999997" stroke="#111" stroke-width="1.1"/>
<text transform="translate(302.6,198.69999999999996) scale(1,1)" font-size="7.3" text-anchor="end" fill="#231f20" stroke="#231f20" stroke-width="0.22">100</text>
<line x1="314.84999999999997" y1="275.6262" x2="314.84999999999997" y2="277.2184" stroke="#222" stroke-width="1.0"/>
<line x1="313.15" y1="275.6262" x2="316.54999999999995" y2="275.6262" stroke="#222" stroke-width="1.2"/>
<rect x="311.7" y="277.2" width="6.3" height="3.1" fill="#aa0d38"/>
<line x1="322.84999999999997" y1="275.8776" x2="322.84999999999997" y2="277.46979999999996" stroke="#222" stroke-width="1.0"/>
<line x1="321.15" y1="275.8776" x2="324.54999999999995" y2="275.8776" stroke="#222" stroke-width="1.2"/>
<rect x="319.7" y="277.5" width="6.3" height="2.8" fill="#6cae48"/>
<line x1="330.84999999999997" y1="275.6262" x2="330.84999999999997" y2="277.2184" stroke="#222" stroke-width="1.0"/>
<line x1="329.15" y1="275.6262" x2="332.54999999999995" y2="275.6262" stroke="#222" stroke-width="1.2"/>
<rect x="327.7" y="277.2" width="6.3" height="3.1" fill="#57246f"/>
<line x1="343.45" y1="235.82119999999998" x2="343.45" y2="242.18999999999997" stroke="#222" stroke-width="1.0"/>
<line x1="341.75" y1="235.82119999999998" x2="345.15" y2="235.82119999999998" stroke="#222" stroke-width="1.2"/>
<rect x="340.3" y="242.2" width="6.3" height="38.1" fill="#aa0d38"/>
<line x1="351.45" y1="236.8268" x2="351.45" y2="242.52519999999998" stroke="#222" stroke-width="1.0"/>
<line x1="349.75" y1="236.8268" x2="353.15" y2="236.8268" stroke="#222" stroke-width="1.2"/>
<rect x="348.3" y="242.5" width="6.3" height="37.8" fill="#6cae48"/>
<line x1="359.45" y1="238.41899999999998" x2="359.45" y2="243.1118" stroke="#222" stroke-width="1.0"/>
<line x1="357.75" y1="238.41899999999998" x2="361.15" y2="238.41899999999998" stroke="#222" stroke-width="1.2"/>
<rect x="356.3" y="243.1" width="6.3" height="37.2" fill="#57246f"/>
<line x1="378.45" y1="273.7826" x2="378.45" y2="276.6318" stroke="#222" stroke-width="1.0"/>
<line x1="376.75" y1="273.7826" x2="380.15" y2="273.7826" stroke="#222" stroke-width="1.2"/>
<rect x="375.3" y="276.6" width="6.3" height="3.7" fill="#aa0d38"/>
<line x1="386.45" y1="276.12899999999996" x2="386.45" y2="277.9726" stroke="#222" stroke-width="1.0"/>
<line x1="384.75" y1="276.12899999999996" x2="388.15" y2="276.12899999999996" stroke="#222" stroke-width="1.2"/>
<rect x="383.3" y="278.0" width="6.3" height="2.3" fill="#6cae48"/>
<line x1="394.45" y1="274.70439999999996" x2="394.45" y2="277.38599999999997" stroke="#222" stroke-width="1.0"/>
<line x1="392.75" y1="274.70439999999996" x2="396.15" y2="274.70439999999996" stroke="#222" stroke-width="1.2"/>
<rect x="391.3" y="277.4" width="6.3" height="2.9" fill="#57246f"/>
<line x1="407.04999999999995" y1="207.41299999999998" x2="407.04999999999995" y2="217.3852" stroke="#222" stroke-width="1.0"/>
<line x1="405.34999999999997" y1="207.41299999999998" x2="408.74999999999994" y2="207.41299999999998" stroke="#222" stroke-width="1.2"/>
<rect x="403.9" y="217.4" width="6.3" height="62.9" fill="#aa0d38"/>
<line x1="415.04999999999995" y1="205.48559999999998" x2="415.04999999999995" y2="222.8322" stroke="#222" stroke-width="1.0"/>
<line x1="413.34999999999997" y1="205.48559999999998" x2="416.74999999999994" y2="205.48559999999998" stroke="#222" stroke-width="1.2"/>
<rect x="411.9" y="222.8" width="6.3" height="57.5" fill="#6cae48"/>
<line x1="423.04999999999995" y1="211.60299999999998" x2="423.04999999999995" y2="218.8936" stroke="#222" stroke-width="1.0"/>
<line x1="421.34999999999997" y1="211.60299999999998" x2="424.74999999999994" y2="211.60299999999998" stroke="#222" stroke-width="1.2"/>
<rect x="419.9" y="218.9" width="6.3" height="61.4" fill="#57246f"/>
<line x1="435.54999999999995" y1="238.1676" x2="435.54999999999995" y2="242.77659999999997" stroke="#222" stroke-width="1.0"/>
<line x1="433.84999999999997" y1="238.1676" x2="437.24999999999994" y2="238.1676" stroke="#222" stroke-width="1.2"/>
<rect x="432.4" y="242.8" width="6.3" height="37.5" fill="#aa0d38"/>
<line x1="443.54999999999995" y1="239.50839999999997" x2="443.54999999999995" y2="246.63139999999999" stroke="#222" stroke-width="1.0"/>
<line x1="441.84999999999997" y1="239.50839999999997" x2="445.24999999999994" y2="239.50839999999997" stroke="#222" stroke-width="1.2"/>
<rect x="440.4" y="246.6" width="6.3" height="33.7" fill="#6cae48"/>
<line x1="451.54999999999995" y1="242.77659999999997" x2="451.54999999999995" y2="246.29619999999997" stroke="#222" stroke-width="1.0"/>
<line x1="449.84999999999997" y1="242.77659999999997" x2="453.24999999999994" y2="242.77659999999997" stroke="#222" stroke-width="1.2"/>
<rect x="448.4" y="246.3" width="6.3" height="34.0" fill="#57246f"/>
<text transform="translate(308.0,290.9) scale(1,1)" font-size="7.8" text-anchor="start" fill="#231f20" stroke="#231f20" stroke-width="0.22" textLength="28.7" lengthAdjust="spacingAndGlyphs">Medium</text>
<text transform="translate(342.40000000000003,290.9) scale(1,1)" font-size="7.8" text-anchor="start" fill="#231f20" stroke="#231f20" stroke-width="0.22" textLength="17.6" lengthAdjust="spacingAndGlyphs">IL-15</text>
<text transform="translate(372.0,290.9) scale(1,1)" font-size="7.8" text-anchor="start" fill="#231f20" stroke="#231f20" stroke-width="0.22" textLength="28.5" lengthAdjust="spacingAndGlyphs">Medium</text>
<text transform="translate(404.70000000000005,290.9) scale(1,1)" font-size="7.8" text-anchor="start" fill="#231f20" stroke="#231f20" stroke-width="0.22" textLength="18.3" lengthAdjust="spacingAndGlyphs">IL-15</text>
<text transform="translate(429.3,290.9) scale(1,1)" font-size="7.8" text-anchor="start" fill="#231f20" stroke="#231f20" stroke-width="0.22" textLength="38" lengthAdjust="spacingAndGlyphs">IL-15 + Maf</text>
<line x1="310.0" y1="295.5" x2="363.2" y2="295.5" stroke="#222" stroke-width="1.1"/>
<line x1="375.4" y1="295.5" x2="456.4" y2="295.5" stroke="#222" stroke-width="1.1"/>
<text transform="translate(337.40000000000003,305.8) scale(1,1.03)" font-size="7.8" text-anchor="middle" fill="#231f20" stroke="#231f20" stroke-width="0.22" textLength="20.8" lengthAdjust="spacingAndGlyphs">Day 3</text>
<text transform="translate(415.6,305.8) scale(1,1.03)" font-size="7.8" text-anchor="middle" fill="#231f20" stroke="#231f20" stroke-width="0.22" textLength="19.8" lengthAdjust="spacingAndGlyphs">Day 5</text>
<text transform="translate(285.5,237.5) rotate(-90)" x="0" y="0" font-size="10" text-anchor="middle" fill="#231f20" stroke="#231f20" stroke-width="0.22" textLength="76" lengthAdjust="spacingAndGlyphs">% of CTV<tspan font-size="5" baseline-shift="3">-</tspan> / NK cells</text>
<rect x="462.2" y="193.6" width="9.2" height="3.1" fill="#aa0d38"/>
<rect x="462.2" y="226.1" width="9.2" height="3.1" fill="#6cae48"/>
<rect x="462.2" y="268.1" width="9.2" height="3.1" fill="#57246f"/>
<text transform="translate(488.5,192.8) scale(1,1)" font-size="7.6" text-anchor="middle" fill="#231f20" stroke="#231f20" stroke-width="0.22">Total</text>
<text transform="translate(488.5,202) scale(1,1)" font-size="7.6" text-anchor="middle" fill="#231f20" stroke="#231f20" stroke-width="0.22">NK cells</text>
<text transform="translate(494.20000000000005,217) scale(1,1)" font-size="7.6" text-anchor="middle" fill="#231f20" stroke="#231f20" stroke-width="0.22">Potentially</text>
<text transform="translate(494.20000000000005,225.9) scale(1,1)" font-size="7.6" text-anchor="middle" fill="#231f20" stroke="#231f20" stroke-width="0.22">Alloreactive</text>
<text transform="translate(494.20000000000005,234.6) scale(1,1)" font-size="7.6" text-anchor="middle" fill="#231f20" stroke="#231f20" stroke-width="0.22">single KIR<tspan font-size="5" baseline-shift="3">+</tspan></text>
<text transform="translate(494.20000000000005,243.3) scale(1,1)" font-size="7.6" text-anchor="middle" fill="#231f20" stroke="#231f20" stroke-width="0.22">NK cells</text>
<text transform="translate(494.20000000000005,258.2) scale(1,1)" font-size="7.6" text-anchor="middle" fill="#231f20" stroke="#231f20" stroke-width="0.22">Non</text>
<text transform="translate(494.20000000000005,267.6) scale(1,1)" font-size="7.6" text-anchor="middle" fill="#231f20" stroke="#231f20" stroke-width="0.22">alloreactive</text>
<text transform="translate(494.20000000000005,276.4) scale(1,1)" font-size="7.6" text-anchor="middle" fill="#231f20" stroke="#231f20" stroke-width="0.22">single KIR<tspan font-size="5" baseline-shift="3">+</tspan></text>
<text transform="translate(494.20000000000005,285.4) scale(1,1)" font-size="7.6" text-anchor="middle" fill="#231f20" stroke="#231f20" stroke-width="0.22">NK cells</text>
<polyline points="52.6,342.8 185.1,342.8 185.1,463.7 52.6,463.7" fill="none" stroke="#111" stroke-width="1.35" stroke-linejoin="miter"/>
<line x1="52.6" y1="342.8" x2="52.6" y2="426.1" stroke="#111" stroke-width="1.3"/>
<line x1="51.0" y1="426.1" x2="54.2" y2="426.1" stroke="#111" stroke-width="1.1"/>
<line x1="52.6" y1="436.4" x2="52.6" y2="463.7" stroke="#111" stroke-width="1.3"/>
<line x1="51.0" y1="436.4" x2="54.2" y2="436.4" stroke="#111" stroke-width="1.1"/>
<line x1="50.0" y1="342.85" x2="52.6" y2="342.85" stroke="#111" stroke-width="1.1"/>
<text transform="translate(46.8,345.55) scale(1,1.07)" font-size="7.6" text-anchor="end" fill="#231f20" stroke="#231f20" stroke-width="0.22">60</text>
<line x1="50.0" y1="370.6" x2="52.6" y2="370.6" stroke="#111" stroke-width="1.1"/>
<text transform="translate(46.8,373.3) scale(1,1.07)" font-size="7.6" text-anchor="end" fill="#231f20" stroke="#231f20" stroke-width="0.22">40</text>
<line x1="50.0" y1="398.35" x2="52.6" y2="398.35" stroke="#111" stroke-width="1.1"/>
<text transform="translate(46.8,401.05) scale(1,1.07)" font-size="7.6" text-anchor="end" fill="#231f20" stroke="#231f20" stroke-width="0.22">20</text>
<line x1="50.0" y1="436.34" x2="52.6" y2="436.34" stroke="#111" stroke-width="1.1"/>
<text transform="translate(46.8,439.03999999999996) scale(1,1.07)" font-size="7.6" text-anchor="end" fill="#231f20" stroke="#231f20" stroke-width="0.22">0.8</text>
<line x1="50.0" y1="450.02" x2="52.6" y2="450.02" stroke="#111" stroke-width="1.1"/>
<text transform="translate(46.8,452.71999999999997) scale(1,1.07)" font-size="7.6" text-anchor="end" fill="#231f20" stroke="#231f20" stroke-width="0.22">0.4</text>
<line x1="50.0" y1="463.7" x2="52.6" y2="463.7" stroke="#111" stroke-width="1.1"/>
<text transform="translate(46.8,466.4) scale(1,1.07)" font-size="7.6" text-anchor="end" fill="#231f20" stroke="#231f20" stroke-width="0.22">0.0</text>
<line x1="86" y1="463.7" x2="86" y2="466" stroke="#111" stroke-width="1"/>
<line x1="152" y1="463.7" x2="152" y2="466" stroke="#111" stroke-width="1"/>
<text transform="translate(86.2,477.2) scale(1,1.02)" font-size="7.8" text-anchor="middle" fill="#231f20" stroke="#231f20" stroke-width="0.22">Graft</text>
<text transform="translate(152,477.2) scale(1,1.02)" font-size="7.8" text-anchor="middle" fill="#231f20" stroke="#231f20" stroke-width="0.22" textLength="23.5" lengthAdjust="spacingAndGlyphs">day 30</text>
<line x1="86.2" y1="357.5" x2="148.8" y2="357.5" stroke="#111" stroke-width="1.1"/>
<circle cx="111.8" cy="352.3" r="1.15" fill="#111"/>
<circle cx="115.6" cy="352.3" r="1.15" fill="#111"/>
<circle cx="119.4" cy="352.3" r="1.15" fill="#111"/>
<circle cx="123.2" cy="352.3" r="1.15" fill="#111"/>
<text transform="translate(18.1,403.6) rotate(-90)" x="0" y="0" font-size="9.6" text-anchor="middle" fill="#231f20" stroke="#231f20" stroke-width="0.22" textLength="62.7" lengthAdjust="spacingAndGlyphs">% of single KIR<tspan font-size="5" baseline-shift="3">+</tspan></text>
<text transform="translate(29.6,403.6) rotate(-90)" x="0" y="0" font-size="9.6" text-anchor="middle" fill="#231f20" stroke="#231f20" stroke-width="0.22" textLength="76.5" lengthAdjust="spacingAndGlyphs">alloreactive NK cells</text>
<line x1="64" y1="404.8" x2="107.9" y2="404.8" stroke="#1a1a1a" stroke-width="1.5"/>
<line x1="75" y1="397.6" x2="98" y2="397.6" stroke="#1a1a1a" stroke-width="1.3"/>
<line x1="75" y1="412.1" x2="97" y2="412.1" stroke="#1a1a1a" stroke-width="1.3"/>
<line x1="86" y1="397.6" x2="86" y2="412.1" stroke="#1a1a1a" stroke-width="1.2"/>
<polygon points="86.0,369.2 83.1,374.5 88.9,374.5" fill="#74ad52" stroke="#141c0e" stroke-width="1.25"/>
<polygon points="86.0,378.5 89.0,381.5 86.0,384.5 83.0,381.5" fill="#74ad52" stroke="#141c0e" stroke-width="1.25"/>
<circle cx="76.7" cy="404.8" r="2.9" fill="#74ad52" stroke="#141c0e" stroke-width="1.25"/>
<circle cx="76.7" cy="404.8" r="1.0" fill="#141c0e"/>
<circle cx="86.0" cy="408.6" r="3.1" fill="#74ad52" stroke="#141c0e" stroke-width="1.25"/>
<polygon points="94.6,404.3 91.7,399.0 97.5,399.0" fill="#74ad52" stroke="#141c0e" stroke-width="1.25"/>
<rect x="73.7" y="420.0" width="6.0" height="6.0" fill="#74ad52" stroke="#141c0e" stroke-width="1.25"/>
<circle cx="76.7" cy="423" r="1.0" fill="#141c0e"/>
<rect x="82.6" y="421.2" width="6.0" height="6.0" fill="#74ad52" stroke="#141c0e" stroke-width="1.25"/>
<polygon points="95.2,421.2 98.2,424.2 95.2,427.2 92.2,424.2" fill="#3a4a2a" stroke="#141c0e" stroke-width="1.25"/>
<line x1="141" y1="452.4" x2="161" y2="452.4" stroke="#999" stroke-width="1.1"/>
<line x1="142" y1="456.3" x2="160" y2="456.3" stroke="#999" stroke-width="1.1"/>
<line x1="139" y1="454.2" x2="165" y2="454.2" stroke="#222" stroke-width="1.3"/>
<circle cx="152.0" cy="442.4" r="3.0" fill="#74ad52" stroke="#141c0e" stroke-width="1.25"/>
<circle cx="152" cy="442.4" r="1.0" fill="#141c0e"/>
<circle cx="152.0" cy="451.3" r="3.1" fill="#74ad52" stroke="#141c0e" stroke-width="1.25"/>
<polygon points="133.5,451.2 136.5,454.2 133.5,457.2 130.5,454.2" fill="#5f7a4a" stroke="#141c0e" stroke-width="1.25"/>
<polygon points="170.5,451.2 173.5,454.2 170.5,457.2 167.5,454.2" fill="#74ad52" stroke="#141c0e" stroke-width="1.25"/>
<circle cx="170.5" cy="454.2" r="1.0" fill="#141c0e"/>
<polygon points="162.8,457.1 159.9,451.8 165.7,451.8" fill="#74ad52" stroke="#141c0e" stroke-width="1.25"/>
<polygon points="140.9,456.4 138.0,461.7 143.8,461.7" fill="#74ad52" stroke="#141c0e" stroke-width="1.25"/>
<rect x="152.7" y="457.3" width="6.0" height="6.0" fill="#74ad52" stroke="#141c0e" stroke-width="1.25"/>
<rect x="145.3" y="458.6" width="6.0" height="6.0" fill="#74ad52" stroke="#141c0e" stroke-width="1.25"/>
<circle cx="148.3" cy="461.6" r="1.0" fill="#141c0e"/>
<rect x="310.5" y="342.9" width="187.40" height="120.40" fill="none" stroke="#111" stroke-width="1.35"/>
<line x1="307.9" y1="463.2" x2="310.5" y2="463.2" stroke="#111" stroke-width="1.1"/>
<text transform="translate(304.2,465.7) scale(1,1)" font-size="7.6" text-anchor="end" fill="#231f20" stroke="#231f20" stroke-width="0.22">0</text>
<line x1="307.9" y1="434.5" x2="310.5" y2="434.5" stroke="#111" stroke-width="1.1"/>
<text transform="translate(304.2,437.0) scale(1,1)" font-size="7.6" text-anchor="end" fill="#231f20" stroke="#231f20" stroke-width="0.22">25</text>
<line x1="307.9" y1="405.8" x2="310.5" y2="405.8" stroke="#111" stroke-width="1.1"/>
<text transform="translate(304.2,408.3) scale(1,1)" font-size="7.6" text-anchor="end" fill="#231f20" stroke="#231f20" stroke-width="0.22">50</text>
<line x1="307.9" y1="377.1" x2="310.5" y2="377.1" stroke="#111" stroke-width="1.1"/>
<text transform="translate(304.2,379.6) scale(1,1)" font-size="7.6" text-anchor="end" fill="#231f20" stroke="#231f20" stroke-width="0.22">75</text>
<line x1="307.9" y1="348.4" x2="310.5" y2="348.4" stroke="#111" stroke-width="1.1"/>
<text transform="translate(304.2,350.9) scale(1,1)" font-size="7.6" text-anchor="end" fill="#231f20" stroke="#231f20" stroke-width="0.22">100</text>
<text transform="translate(285.2,402.5) rotate(-90)" x="0" y="0" font-size="10" text-anchor="middle" fill="#231f20" stroke="#231f20" stroke-width="0.22" textLength="94" lengthAdjust="spacingAndGlyphs">% of AnnV<tspan font-size="5" baseline-shift="3">+</tspan> / target cells</text>
<text transform="translate(282.3,478.4) scale(1,1.04)" font-size="7.8" text-anchor="start" fill="#231f20" stroke="#231f20" stroke-width="0.22" textLength="42.3" lengthAdjust="spacingAndGlyphs">Target cells:</text>
<text transform="translate(333.8,478.4) scale(1,1.04)" font-size="7.8" text-anchor="start" fill="#231f20" stroke="#231f20" stroke-width="0.22" textLength="18.5" lengthAdjust="spacingAndGlyphs">K562</text>
<text transform="translate(381.9,478.4) scale(1,1.04)" font-size="7.8" text-anchor="start" fill="#231f20" stroke="#231f20" stroke-width="0.22" textLength="42.7" lengthAdjust="spacingAndGlyphs">OCI/AML03</text>
<text transform="translate(432.7,478.4) scale(1,1.04)" font-size="7.8" text-anchor="start" fill="#231f20" stroke="#231f20" stroke-width="0.22" textLength="62.3" lengthAdjust="spacingAndGlyphs">primary leukemia</text>
<line x1="336" y1="335.6" x2="351.3" y2="335.6" stroke="#111" stroke-width="1.3"/>
<circle cx="343.6" cy="335.6" r="3.3" fill="#2e3d5f" stroke="#0a0e1a" stroke-width="1.0"/>
<text transform="translate(354.8,337.9) scale(1,0.92)" font-size="7.8" text-anchor="start" fill="#231f20" stroke="#231f20" stroke-width="0.22" textLength="31.2" lengthAdjust="spacingAndGlyphs">donor PB</text>
<circle cx="437.9" cy="335.4" r="3.3" fill="#8a1834" stroke="#22050c" stroke-width="1.0"/>
<text transform="translate(444.4,337.9) scale(1,0.92)" font-size="7.8" text-anchor="start" fill="#231f20" stroke="#231f20" stroke-width="0.22" textLength="22.1" lengthAdjust="spacingAndGlyphs">day 30</text>
<line x1="394.1" y1="357.8" x2="411.2" y2="357.8" stroke="#111" stroke-width="1.3"/>
<circle cx="402.3" cy="355" r="1.2" fill="#111"/>
<line x1="454.1" y1="358.1" x2="471.4" y2="358.1" stroke="#111" stroke-width="1.3"/>
<circle cx="460.8" cy="355" r="1.2" fill="#111"/>
<circle cx="464.7" cy="355" r="1.2" fill="#111"/>
<line x1="334.9" y1="364.12760000000003" x2="351.3" y2="386.284" stroke="#111" stroke-width="1.1"/>
<line x1="334.9" y1="387.8912" x2="351.3" y2="386.284" stroke="#111" stroke-width="1.1"/>
<line x1="334.9" y1="391.2204" x2="351.3" y2="431.056" stroke="#111" stroke-width="1.1"/>
<line x1="334.9" y1="395.8124" x2="351.3" y2="402.356" stroke="#111" stroke-width="1.1"/>
<line x1="334.9" y1="381.9216" x2="351.3" y2="436.796" stroke="#111" stroke-width="1.1"/>
<line x1="334.9" y1="420.2648" x2="351.3" y2="413.836" stroke="#111" stroke-width="1.1"/>
<line x1="334.9" y1="424.2828" x2="351.3" y2="431.056" stroke="#111" stroke-width="1.1"/>
<line x1="334.9" y1="428.186" x2="351.3" y2="434.8444" stroke="#111" stroke-width="1.1"/>
<circle cx="334.9" cy="364.1" r="3.0" fill="#2e3d5f" stroke="#0a0e1a" stroke-width="1.0"/>
<circle cx="334.9" cy="387.9" r="3.0" fill="#2e3d5f" stroke="#0a0e1a" stroke-width="1.0"/>
<circle cx="334.9" cy="391.2" r="3.0" fill="#2e3d5f" stroke="#0a0e1a" stroke-width="1.0"/>
<circle cx="334.9" cy="395.8" r="3.0" fill="#2e3d5f" stroke="#0a0e1a" stroke-width="1.0"/>
<circle cx="334.9" cy="381.9" r="3.0" fill="#2e3d5f" stroke="#0a0e1a" stroke-width="1.0"/>
<circle cx="334.9" cy="420.3" r="3.0" fill="#2e3d5f" stroke="#0a0e1a" stroke-width="1.0"/>
<circle cx="334.9" cy="424.3" r="3.0" fill="#2e3d5f" stroke="#0a0e1a" stroke-width="1.0"/>
<circle cx="334.9" cy="428.2" r="3.0" fill="#2e3d5f" stroke="#0a0e1a" stroke-width="1.0"/>
<circle cx="351.3" cy="386.3" r="3.0" fill="#8a1834" stroke="#22050c" stroke-width="1.0"/>
<circle cx="351.3" cy="386.3" r="3.0" fill="#8a1834" stroke="#22050c" stroke-width="1.0"/>
<circle cx="351.3" cy="431.1" r="3.0" fill="#8a1834" stroke="#22050c" stroke-width="1.0"/>
<circle cx="351.3" cy="402.4" r="3.0" fill="#8a1834" stroke="#22050c" stroke-width="1.0"/>
<circle cx="351.3" cy="436.8" r="3.0" fill="#8a1834" stroke="#22050c" stroke-width="1.0"/>
<circle cx="351.3" cy="413.8" r="3.0" fill="#8a1834" stroke="#22050c" stroke-width="1.0"/>
<circle cx="351.3" cy="431.1" r="3.0" fill="#8a1834" stroke="#22050c" stroke-width="1.0"/>
<circle cx="351.3" cy="434.8" r="3.0" fill="#8a1834" stroke="#22050c" stroke-width="1.0"/>
<line x1="395" y1="404.9964" x2="412" y2="459.52639999999997" stroke="#111" stroke-width="1.1"/>
<line x1="395" y1="414.6396" x2="412" y2="429.1044" stroke="#111" stroke-width="1.1"/>
<line x1="395" y1="418.7724" x2="412" y2="457.1156" stroke="#111" stroke-width="1.1"/>
<line x1="395" y1="429.1044" x2="412" y2="433.926" stroke="#111" stroke-width="1.1"/>
<line x1="395" y1="433.12239999999997" x2="412" y2="442.7656" stroke="#111" stroke-width="1.1"/>
<line x1="395" y1="438.7476" x2="412" y2="457.1156" stroke="#111" stroke-width="1.1"/>
<line x1="395" y1="447.4724" x2="412" y2="459.52639999999997" stroke="#111" stroke-width="1.1"/>
<line x1="395" y1="452.4088" x2="412" y2="457.1156" stroke="#111" stroke-width="1.1"/>
<circle cx="395.0" cy="405.0" r="3.0" fill="#2e3d5f" stroke="#0a0e1a" stroke-width="1.0"/>
<circle cx="395.0" cy="414.6" r="3.0" fill="#2e3d5f" stroke="#0a0e1a" stroke-width="1.0"/>
<circle cx="395.0" cy="418.8" r="3.0" fill="#2e3d5f" stroke="#0a0e1a" stroke-width="1.0"/>
<circle cx="395.0" cy="429.1" r="3.0" fill="#2e3d5f" stroke="#0a0e1a" stroke-width="1.0"/>
<circle cx="395.0" cy="433.1" r="3.0" fill="#2e3d5f" stroke="#0a0e1a" stroke-width="1.0"/>
<circle cx="395.0" cy="438.7" r="3.0" fill="#2e3d5f" stroke="#0a0e1a" stroke-width="1.0"/>
<circle cx="395.0" cy="447.5" r="3.0" fill="#2e3d5f" stroke="#0a0e1a" stroke-width="1.0"/>
<circle cx="395.0" cy="452.4" r="3.0" fill="#2e3d5f" stroke="#0a0e1a" stroke-width="1.0"/>
<circle cx="412.0" cy="459.5" r="3.0" fill="#8a1834" stroke="#22050c" stroke-width="1.0"/>
<circle cx="412.0" cy="429.1" r="3.0" fill="#8a1834" stroke="#22050c" stroke-width="1.0"/>
<circle cx="412.0" cy="457.1" r="3.0" fill="#8a1834" stroke="#22050c" stroke-width="1.0"/>
<circle cx="412.0" cy="433.9" r="3.0" fill="#8a1834" stroke="#22050c" stroke-width="1.0"/>
<circle cx="412.0" cy="442.8" r="3.0" fill="#8a1834" stroke="#22050c" stroke-width="1.0"/>
<circle cx="412.0" cy="457.1" r="3.0" fill="#8a1834" stroke="#22050c" stroke-width="1.0"/>
<circle cx="412.0" cy="459.5" r="3.0" fill="#8a1834" stroke="#22050c" stroke-width="1.0"/>
<circle cx="412.0" cy="457.1" r="3.0" fill="#8a1834" stroke="#22050c" stroke-width="1.0"/>
<line x1="455" y1="373.082" x2="472" y2="442.1916" stroke="#111" stroke-width="1.1"/>
<line x1="455" y1="388.58" x2="472" y2="439.092" stroke="#111" stroke-width="1.1"/>
<line x1="455" y1="391.5648" x2="472" y2="403.1596" stroke="#111" stroke-width="1.1"/>
<line x1="455" y1="394.6644" x2="472" y2="445.2912" stroke="#111" stroke-width="1.1"/>
<line x1="455" y1="403.84839999999997" x2="472" y2="411.88439999999997" stroke="#111" stroke-width="1.1"/>
<line x1="455" y1="406.948" x2="472" y2="416.132" stroke="#111" stroke-width="1.1"/>
<line x1="455" y1="409.9328" x2="472" y2="442.1916" stroke="#111" stroke-width="1.1"/>
<line x1="455" y1="426.0048" x2="472" y2="445.2912" stroke="#111" stroke-width="1.1"/>
<circle cx="455.0" cy="373.1" r="3.0" fill="#2e3d5f" stroke="#0a0e1a" stroke-width="1.0"/>
<circle cx="455.0" cy="388.6" r="3.0" fill="#2e3d5f" stroke="#0a0e1a" stroke-width="1.0"/>
<circle cx="455.0" cy="391.6" r="3.0" fill="#2e3d5f" stroke="#0a0e1a" stroke-width="1.0"/>
<circle cx="455.0" cy="394.7" r="3.0" fill="#2e3d5f" stroke="#0a0e1a" stroke-width="1.0"/>
<circle cx="455.0" cy="403.8" r="3.0" fill="#2e3d5f" stroke="#0a0e1a" stroke-width="1.0"/>
<circle cx="455.0" cy="406.9" r="3.0" fill="#2e3d5f" stroke="#0a0e1a" stroke-width="1.0"/>
<circle cx="455.0" cy="409.9" r="3.0" fill="#2e3d5f" stroke="#0a0e1a" stroke-width="1.0"/>
<circle cx="455.0" cy="426.0" r="3.0" fill="#2e3d5f" stroke="#0a0e1a" stroke-width="1.0"/>
<circle cx="472.0" cy="442.2" r="3.0" fill="#8a1834" stroke="#22050c" stroke-width="1.0"/>
<circle cx="472.0" cy="439.1" r="3.0" fill="#8a1834" stroke="#22050c" stroke-width="1.0"/>
<circle cx="472.0" cy="403.2" r="3.0" fill="#8a1834" stroke="#22050c" stroke-width="1.0"/>
<circle cx="472.0" cy="445.3" r="3.0" fill="#8a1834" stroke="#22050c" stroke-width="1.0"/>
<circle cx="472.0" cy="411.9" r="3.0" fill="#8a1834" stroke="#22050c" stroke-width="1.0"/>
<circle cx="472.0" cy="416.1" r="3.0" fill="#8a1834" stroke="#22050c" stroke-width="1.0"/>
<circle cx="472.0" cy="442.2" r="3.0" fill="#8a1834" stroke="#22050c" stroke-width="1.0"/>
<circle cx="472.0" cy="445.3" r="3.0" fill="#8a1834" stroke="#22050c" stroke-width="1.0"/>
<polyline points="53.4,510.5 53.4,512.3 55.4,514.6 57.0,520.0 58.5,527.7 60.0,538.5 62.3,541.5 63.8,546.0 65.4,550.8 67.0,557.7 69.2,559.2 71.5,561.5 74.6,563.8 77.7,564.6 79.2,567.7 80.8,570.8 88.5,570.8 90.8,573.8 93.0,576.9 123.1,577.2 125.2,580.2 126.2,581.2 136.3,581.2 138.3,584.6 154.4,584.6 156.5,587.3 158.5,587.9 182.7,587.9 183.7,590.7 201.9,590.7 202.9,597.0 210.0,597.4" fill="none" stroke="#361e4e" stroke-width="1.6" stroke-linejoin="miter"/>
<polyline points="53.4,510.0 56.2,510.0 56.2,511.5 58.5,511.5 59.0,515.0 60.5,519.2 64.6,519.2 65.4,531.5 73.8,531.5 74.6,534.6 77.0,540.0 78.5,544.6 80.0,549.2 81.5,553.0 83.0,555.4 84.6,559.2 93.0,559.2 94.6,563.0 96.2,568.5 113.0,568.5 113.6,576.6 210.0,576.6" fill="none" stroke="#62a040" stroke-width="1.6" stroke-linejoin="miter"/>
<line x1="99.2" y1="567.4" x2="99.2" y2="570.6" stroke="#62a040" stroke-width="0.9"/>
<line x1="103" y1="567.4" x2="103" y2="570.6" stroke="#62a040" stroke-width="0.9"/>
<line x1="106.9" y1="567.4" x2="106.9" y2="570.6" stroke="#62a040" stroke-width="0.9"/>
<line x1="110.8" y1="567.4" x2="110.8" y2="570.6" stroke="#62a040" stroke-width="0.9"/>
<line x1="115.4" y1="575.0" x2="115.4" y2="578.2" stroke="#62a040" stroke-width="0.9"/>
<line x1="119.2" y1="575.0" x2="119.2" y2="578.2" stroke="#62a040" stroke-width="0.9"/>
<line x1="124.6" y1="575.0" x2="124.6" y2="578.2" stroke="#62a040" stroke-width="0.9"/>
<line x1="134.6" y1="575.0" x2="134.6" y2="578.2" stroke="#62a040" stroke-width="0.9"/>
<line x1="137.7" y1="575.0" x2="137.7" y2="578.2" stroke="#62a040" stroke-width="0.9"/>
<line x1="144.6" y1="575.0" x2="144.6" y2="578.2" stroke="#62a040" stroke-width="0.9"/>
<line x1="147.7" y1="575.0" x2="147.7" y2="578.2" stroke="#62a040" stroke-width="0.9"/>
<line x1="162" y1="575.0" x2="162" y2="578.2" stroke="#62a040" stroke-width="0.9"/>
<line x1="204" y1="575.0" x2="204" y2="578.2" stroke="#62a040" stroke-width="0.9"/>
<line x1="96.9" y1="575.6" x2="96.9" y2="578.8000000000001" stroke="#361e4e" stroke-width="0.9"/>
<line x1="108.5" y1="575.6" x2="108.5" y2="578.8000000000001" stroke="#361e4e" stroke-width="0.9"/>
<line x1="129.2" y1="579.6" x2="129.2" y2="582.8000000000001" stroke="#361e4e" stroke-width="0.9"/>
<line x1="146.9" y1="583.0" x2="146.9" y2="586.2" stroke="#361e4e" stroke-width="0.9"/>
<line x1="153.8" y1="583.0" x2="153.8" y2="586.2" stroke="#361e4e" stroke-width="0.9"/>
<line x1="170" y1="586.3" x2="170" y2="589.5" stroke="#361e4e" stroke-width="0.9"/>
<rect x="52.8" y="505.6" width="157.30" height="135.20" fill="none" stroke="#111" stroke-width="1.4"/>
<line x1="50.199999999999996" y1="635.7" x2="52.8" y2="635.7" stroke="#111" stroke-width="1.1"/>
<text transform="translate(46.8,638.8000000000001) scale(1,1)" font-size="7.8" text-anchor="end" fill="#231f20" stroke="#231f20" stroke-width="0.22">0.0</text>
<line x1="50.199999999999996" y1="610.6" x2="52.8" y2="610.6" stroke="#111" stroke-width="1.1"/>
<text transform="translate(46.8,613.7) scale(1,1)" font-size="7.8" text-anchor="end" fill="#231f20" stroke="#231f20" stroke-width="0.22">0.2</text>
<line x1="50.199999999999996" y1="585.5" x2="52.8" y2="585.5" stroke="#111" stroke-width="1.1"/>
<text transform="translate(46.8,588.6) scale(1,1)" font-size="7.8" text-anchor="end" fill="#231f20" stroke="#231f20" stroke-width="0.22">0.4</text>
<line x1="50.199999999999996" y1="560.4000000000001" x2="52.8" y2="560.4000000000001" stroke="#111" stroke-width="1.1"/>
<text transform="translate(46.8,563.5000000000001) scale(1,1)" font-size="7.8" text-anchor="end" fill="#231f20" stroke="#231f20" stroke-width="0.22">0.6</text>
<line x1="50.199999999999996" y1="535.3000000000001" x2="52.8" y2="535.3000000000001" stroke="#111" stroke-width="1.1"/>
<text transform="translate(46.8,538.4000000000001) scale(1,1)" font-size="7.8" text-anchor="end" fill="#231f20" stroke="#231f20" stroke-width="0.22">0.8</text>
<line x1="50.199999999999996" y1="510.20000000000005" x2="52.8" y2="510.20000000000005" stroke="#111" stroke-width="1.1"/>
<text transform="translate(46.8,513.3000000000001) scale(1,1)" font-size="7.8" text-anchor="end" fill="#231f20" stroke="#231f20" stroke-width="0.22">1.0</text>
<line x1="53.4" y1="640.8" x2="53.4" y2="643.3" stroke="#111" stroke-width="1.1"/>
<text transform="translate(53.4,653.9) scale(1,0.95)" font-size="7.5" text-anchor="middle" fill="#231f20" stroke="#231f20" stroke-width="0.22">0</text>
<line x1="83.5" y1="640.8" x2="83.5" y2="643.3" stroke="#111" stroke-width="1.1"/>
<text transform="translate(83.5,653.9) scale(1,0.95)" font-size="7.5" text-anchor="middle" fill="#231f20" stroke="#231f20" stroke-width="0.22">5</text>
<line x1="113.6" y1="640.8" x2="113.6" y2="643.3" stroke="#111" stroke-width="1.1"/>
<text transform="translate(113.6,653.9) scale(1,0.95)" font-size="7.5" text-anchor="middle" fill="#231f20" stroke="#231f20" stroke-width="0.22">10</text>
<line x1="143.7" y1="640.8" x2="143.7" y2="643.3" stroke="#111" stroke-width="1.1"/>
<text transform="translate(143.7,653.9) scale(1,0.95)" font-size="7.5" text-anchor="middle" fill="#231f20" stroke="#231f20" stroke-width="0.22">15</text>
<line x1="173.79999999999998" y1="640.8" x2="173.79999999999998" y2="643.3" stroke="#111" stroke-width="1.1"/>
<text transform="translate(173.79999999999998,653.9) scale(1,0.95)" font-size="7.5" text-anchor="middle" fill="#231f20" stroke="#231f20" stroke-width="0.22">20</text>
<line x1="203.9" y1="640.8" x2="203.9" y2="643.3" stroke="#111" stroke-width="1.1"/>
<text transform="translate(203.9,653.9) scale(1,0.95)" font-size="7.5" text-anchor="middle" fill="#231f20" stroke="#231f20" stroke-width="0.22">25</text>
<text transform="translate(80.8,667.9) scale(1,1.13)" font-size="8.8" text-anchor="start" fill="#231f20" stroke="#231f20" stroke-width="0.22" textLength="101.7" lengthAdjust="spacingAndGlyphs">Time from HSCT (months)</text>
<text transform="translate(47.5,679.7) scale(1,0.98)" font-size="7.6" text-anchor="start" fill="#231f20" stroke="#231f20" stroke-width="0.22" textLength="49.5" lengthAdjust="spacingAndGlyphs">Number at risk</text>
<rect x="7.4" y="684" width="33.4" height="8.9" fill="#4e2163"/>
<rect x="7.4" y="695" width="33.4" height="9.3" fill="#5fa840"/>
<text transform="translate(24,690.9) scale(1,1)" font-size="6.8" text-anchor="middle" fill="#eadcf2" stroke="#eadcf2" stroke-width="0.22" textLength="29" lengthAdjust="spacingAndGlyphs">No NK all.</text>
<text transform="translate(24,702.1) scale(1,1)" font-size="6.8" text-anchor="middle" fill="#d6f0c6" stroke="#d6f0c6" stroke-width="0.22" textLength="19.5" lengthAdjust="spacingAndGlyphs">NK all.</text>
<text transform="translate(53.4,690.8) scale(1,0.9)" font-size="7.6" text-anchor="middle" fill="#231f20" stroke="#231f20" stroke-width="0.22">58</text>
<text transform="translate(53.4,702.3) scale(1,0.9)" font-size="7.6" text-anchor="middle" fill="#231f20" stroke="#231f20" stroke-width="0.22">41</text>
<text transform="translate(83.5,690.8) scale(1,0.9)" font-size="7.6" text-anchor="middle" fill="#231f20" stroke="#231f20" stroke-width="0.22">30</text>
<text transform="translate(83.5,702.3) scale(1,0.9)" font-size="7.6" text-anchor="middle" fill="#231f20" stroke="#231f20" stroke-width="0.22">26</text>
<text transform="translate(113.6,690.8) scale(1,0.9)" font-size="7.6" text-anchor="middle" fill="#231f20" stroke="#231f20" stroke-width="0.22">25</text>
<text transform="translate(113.6,702.3) scale(1,0.9)" font-size="7.6" text-anchor="middle" fill="#231f20" stroke="#231f20" stroke-width="0.22">16</text>
<text transform="translate(143.7,690.8) scale(1,0.9)" font-size="7.6" text-anchor="middle" fill="#231f20" stroke="#231f20" stroke-width="0.22">20</text>
<text transform="translate(143.7,702.3) scale(1,0.9)" font-size="7.6" text-anchor="middle" fill="#231f20" stroke="#231f20" stroke-width="0.22">11</text>
<text transform="translate(173.79999999999998,690.8) scale(1,0.9)" font-size="7.6" text-anchor="middle" fill="#231f20" stroke="#231f20" stroke-width="0.22">15</text>
<text transform="translate(173.79999999999998,702.3) scale(1,0.9)" font-size="7.6" text-anchor="middle" fill="#231f20" stroke="#231f20" stroke-width="0.22">8</text>
<text transform="translate(203.9,690.8) scale(1,0.9)" font-size="7.6" text-anchor="middle" fill="#231f20" stroke="#231f20" stroke-width="0.22">11</text>
<text transform="translate(203.9,702.3) scale(1,0.9)" font-size="7.6" text-anchor="middle" fill="#231f20" stroke="#231f20" stroke-width="0.22">7</text>
<text transform="translate(167.5,611.4) scale(1,1.0)" font-size="7.6" text-anchor="start" fill="#231f20" stroke="#231f20" stroke-width="0.22" textLength="32.2" lengthAdjust="spacingAndGlyphs">p=0.3084</text>
<text transform="translate(29.8,573) rotate(-90)" x="0" y="0" font-size="10" text-anchor="middle" fill="#231f20" stroke="#231f20" stroke-width="0.22" textLength="68.9" lengthAdjust="spacingAndGlyphs">Probability of PFS</text>
<polyline points="310.4,510.5 314.2,512.3 315.8,518.5 317.3,524.6 319.6,530.8 321.2,535.4 322.7,540.8 324.2,545.4 325.8,548.9 328.8,553.1 332.7,553.8 335.8,555.4 338.1,558.5 339.6,562.3 349.6,562.3 351.2,567.7 361.9,568.5 363.5,570.8 372.7,571.5 373.5,573.5 383.7,573.5 385.6,576.0 407.7,576.0 409.6,578.8 442.3,578.8 443.3,581.7 459.6,581.7 460.6,588.5 467.3,588.5" fill="none" stroke="#361e4e" stroke-width="1.6" stroke-linejoin="miter"/>
<polyline points="310.4,510.5 314.2,510.5 315.8,513.8 316.5,515.7 321.9,515.7 324.2,522.3 326.5,528.2 333.5,528.2 335.8,534.6 338.1,540.3 350.4,540.3 351.9,550.0 358.1,550.0 359.6,557.2 365.0,557.2 366.5,560.3 371.2,560.3 372.7,563.4 377.3,563.4 378.8,568.3 390.4,568.3 392.3,572.1 424.0,572.1 425.0,578.5 446.2,578.5 447.1,584.6 460.6,584.6 461.5,586.2 467.3,586.2" fill="none" stroke="#62a040" stroke-width="1.6" stroke-linejoin="miter"/>
<line x1="320.0" y1="514.1" x2="320.0" y2="517.3000000000001" stroke="#62a040" stroke-width="0.9"/>
<line x1="331.0" y1="526.6" x2="331.0" y2="529.8000000000001" stroke="#62a040" stroke-width="0.9"/>
<line x1="342.0" y1="538.6999999999999" x2="342.0" y2="541.9" stroke="#62a040" stroke-width="0.9"/>
<line x1="347.0" y1="538.6999999999999" x2="347.0" y2="541.9" stroke="#62a040" stroke-width="0.9"/>
<line x1="356.0" y1="548.4" x2="356.0" y2="551.6" stroke="#62a040" stroke-width="0.9"/>
<line x1="362.0" y1="555.6" x2="362.0" y2="558.8000000000001" stroke="#62a040" stroke-width="0.9"/>
<line x1="369.0" y1="558.6999999999999" x2="369.0" y2="561.9" stroke="#62a040" stroke-width="0.9"/>
<line x1="385.0" y1="566.6999999999999" x2="385.0" y2="569.9" stroke="#62a040" stroke-width="0.9"/>
<line x1="400.0" y1="570.5" x2="400.0" y2="573.7" stroke="#62a040" stroke-width="0.9"/>
<line x1="415.0" y1="570.5" x2="415.0" y2="573.7" stroke="#62a040" stroke-width="0.9"/>
<line x1="436.0" y1="576.9" x2="436.0" y2="580.1" stroke="#62a040" stroke-width="0.9"/>
<line x1="330.0" y1="551.9" x2="330.0" y2="555.1" stroke="#361e4e" stroke-width="0.9"/>
<line x1="345.0" y1="560.6999999999999" x2="345.0" y2="563.9" stroke="#361e4e" stroke-width="0.9"/>
<line x1="357.0" y1="566.4" x2="357.0" y2="569.6" stroke="#361e4e" stroke-width="0.9"/>
<line x1="378.0" y1="571.9" x2="378.0" y2="575.1" stroke="#361e4e" stroke-width="0.9"/>
<line x1="395.0" y1="574.4" x2="395.0" y2="577.6" stroke="#361e4e" stroke-width="0.9"/>
<line x1="420.0" y1="577.1999999999999" x2="420.0" y2="580.4" stroke="#361e4e" stroke-width="0.9"/>
<line x1="430.0" y1="577.1999999999999" x2="430.0" y2="580.4" stroke="#361e4e" stroke-width="0.9"/>
<line x1="452.0" y1="580.1" x2="452.0" y2="583.3000000000001" stroke="#361e4e" stroke-width="0.9"/>
<rect x="310.2" y="505.6" width="157.00" height="135.20" fill="none" stroke="#111" stroke-width="1.4"/>
<line x1="307.59999999999997" y1="635.7" x2="310.2" y2="635.7" stroke="#111" stroke-width="1.1"/>
<text transform="translate(304.2,638.8000000000001) scale(1,1)" font-size="7.8" text-anchor="end" fill="#231f20" stroke="#231f20" stroke-width="0.22">0.0</text>
<line x1="307.59999999999997" y1="610.6" x2="310.2" y2="610.6" stroke="#111" stroke-width="1.1"/>
<text transform="translate(304.2,613.7) scale(1,1)" font-size="7.8" text-anchor="end" fill="#231f20" stroke="#231f20" stroke-width="0.22">0.2</text>
<line x1="307.59999999999997" y1="585.5" x2="310.2" y2="585.5" stroke="#111" stroke-width="1.1"/>
<text transform="translate(304.2,588.6) scale(1,1)" font-size="7.8" text-anchor="end" fill="#231f20" stroke="#231f20" stroke-width="0.22">0.4</text>
<line x1="307.59999999999997" y1="560.4000000000001" x2="310.2" y2="560.4000000000001" stroke="#111" stroke-width="1.1"/>
<text transform="translate(304.2,563.5000000000001) scale(1,1)" font-size="7.8" text-anchor="end" fill="#231f20" stroke="#231f20" stroke-width="0.22">0.6</text>
<line x1="307.59999999999997" y1="535.3000000000001" x2="310.2" y2="535.3000000000001" stroke="#111" stroke-width="1.1"/>
<text transform="translate(304.2,538.4000000000001) scale(1,1)" font-size="7.8" text-anchor="end" fill="#231f20" stroke="#231f20" stroke-width="0.22">0.8</text>
<line x1="307.59999999999997" y1="510.20000000000005" x2="310.2" y2="510.20000000000005" stroke="#111" stroke-width="1.1"/>
<text transform="translate(304.2,513.3000000000001) scale(1,1)" font-size="7.8" text-anchor="end" fill="#231f20" stroke="#231f20" stroke-width="0.22">1.0</text>
<line x1="310.79999999999995" y1="640.8" x2="310.79999999999995" y2="643.3" stroke="#111" stroke-width="1.1"/>
<text transform="translate(310.79999999999995,653.9) scale(1,0.95)" font-size="7.5" text-anchor="middle" fill="#231f20" stroke="#231f20" stroke-width="0.22">0</text>
<line x1="340.9" y1="640.8" x2="340.9" y2="643.3" stroke="#111" stroke-width="1.1"/>
<text transform="translate(340.9,653.9) scale(1,0.95)" font-size="7.5" text-anchor="middle" fill="#231f20" stroke="#231f20" stroke-width="0.22">5</text>
<line x1="370.99999999999994" y1="640.8" x2="370.99999999999994" y2="643.3" stroke="#111" stroke-width="1.1"/>
<text transform="translate(370.99999999999994,653.9) scale(1,0.95)" font-size="7.5" text-anchor="middle" fill="#231f20" stroke="#231f20" stroke-width="0.22">10</text>
<line x1="401.09999999999997" y1="640.8" x2="401.09999999999997" y2="643.3" stroke="#111" stroke-width="1.1"/>
<text transform="translate(401.09999999999997,653.9) scale(1,0.95)" font-size="7.5" text-anchor="middle" fill="#231f20" stroke="#231f20" stroke-width="0.22">15</text>
<line x1="431.19999999999993" y1="640.8" x2="431.19999999999993" y2="643.3" stroke="#111" stroke-width="1.1"/>
<text transform="translate(431.19999999999993,653.9) scale(1,0.95)" font-size="7.5" text-anchor="middle" fill="#231f20" stroke="#231f20" stroke-width="0.22">20</text>
<line x1="461.29999999999995" y1="640.8" x2="461.29999999999995" y2="643.3" stroke="#111" stroke-width="1.1"/>
<text transform="translate(461.29999999999995,653.9) scale(1,0.95)" font-size="7.5" text-anchor="middle" fill="#231f20" stroke="#231f20" stroke-width="0.22">25</text>
<text transform="translate(338.2,667.9) scale(1,1.13)" font-size="8.8" text-anchor="start" fill="#231f20" stroke="#231f20" stroke-width="0.22" textLength="101.7" lengthAdjust="spacingAndGlyphs">Time from HSCT (months)</text>
<text transform="translate(304.9,679.7) scale(1,0.98)" font-size="7.6" text-anchor="start" fill="#231f20" stroke="#231f20" stroke-width="0.22" textLength="49.5" lengthAdjust="spacingAndGlyphs">Number at risk</text>
<rect x="264.79999999999995" y="684" width="33.4" height="8.9" fill="#4e2163"/>
<rect x="264.79999999999995" y="695" width="33.4" height="9.3" fill="#5fa840"/>
<text transform="translate(281.4,690.9) scale(1,1)" font-size="6.8" text-anchor="middle" fill="#eadcf2" stroke="#eadcf2" stroke-width="0.22" textLength="29" lengthAdjust="spacingAndGlyphs">No NK all.</text>
<text transform="translate(281.4,702.1) scale(1,1)" font-size="6.8" text-anchor="middle" fill="#d6f0c6" stroke="#d6f0c6" stroke-width="0.22" textLength="19.5" lengthAdjust="spacingAndGlyphs">NK all.</text>
<text transform="translate(310.79999999999995,690.8) scale(1,0.9)" font-size="7.6" text-anchor="middle" fill="#231f20" stroke="#231f20" stroke-width="0.22">58</text>
<text transform="translate(310.79999999999995,702.3) scale(1,0.9)" font-size="7.6" text-anchor="middle" fill="#231f20" stroke="#231f20" stroke-width="0.22">41</text>
<text transform="translate(340.9,690.8) scale(1,0.9)" font-size="7.6" text-anchor="middle" fill="#231f20" stroke="#231f20" stroke-width="0.22">33</text>
<text transform="translate(340.9,702.3) scale(1,0.9)" font-size="7.6" text-anchor="middle" fill="#231f20" stroke="#231f20" stroke-width="0.22">31</text>
<text transform="translate(370.99999999999994,690.8) scale(1,0.9)" font-size="7.6" text-anchor="middle" fill="#231f20" stroke="#231f20" stroke-width="0.22">27</text>
<text transform="translate(370.99999999999994,702.3) scale(1,0.9)" font-size="7.6" text-anchor="middle" fill="#231f20" stroke="#231f20" stroke-width="0.22">20</text>
<text transform="translate(401.09999999999997,690.8) scale(1,0.9)" font-size="7.6" text-anchor="middle" fill="#231f20" stroke="#231f20" stroke-width="0.22">23</text>
<text transform="translate(401.09999999999997,702.3) scale(1,0.9)" font-size="7.6" text-anchor="middle" fill="#231f20" stroke="#231f20" stroke-width="0.22">13</text>
<text transform="translate(431.19999999999993,690.8) scale(1,0.9)" font-size="7.6" text-anchor="middle" fill="#231f20" stroke="#231f20" stroke-width="0.22">17</text>
<text transform="translate(431.19999999999993,702.3) scale(1,0.9)" font-size="7.6" text-anchor="middle" fill="#231f20" stroke="#231f20" stroke-width="0.22">9</text>
<text transform="translate(461.29999999999995,690.8) scale(1,0.9)" font-size="7.6" text-anchor="middle" fill="#231f20" stroke="#231f20" stroke-width="0.22">13</text>
<text transform="translate(461.29999999999995,702.3) scale(1,0.9)" font-size="7.6" text-anchor="middle" fill="#231f20" stroke="#231f20" stroke-width="0.22">7</text>
<text transform="translate(425.4,611.4) scale(1,1.0)" font-size="7.6" text-anchor="start" fill="#231f20" stroke="#231f20" stroke-width="0.22" textLength="32.2" lengthAdjust="spacingAndGlyphs">p=0.6830</text>
<text transform="translate(287.79999999999995,573) rotate(-90)" x="0" y="0" font-size="10" text-anchor="middle" fill="#231f20" stroke="#231f20" stroke-width="0.22" textLength="65" lengthAdjust="spacingAndGlyphs">Probability of OS</text>
<rect x="0.75" y="0.75" width="518.5" height="710.5" fill="none" stroke="#000" stroke-width="1.6"/>
</svg></body></html>
